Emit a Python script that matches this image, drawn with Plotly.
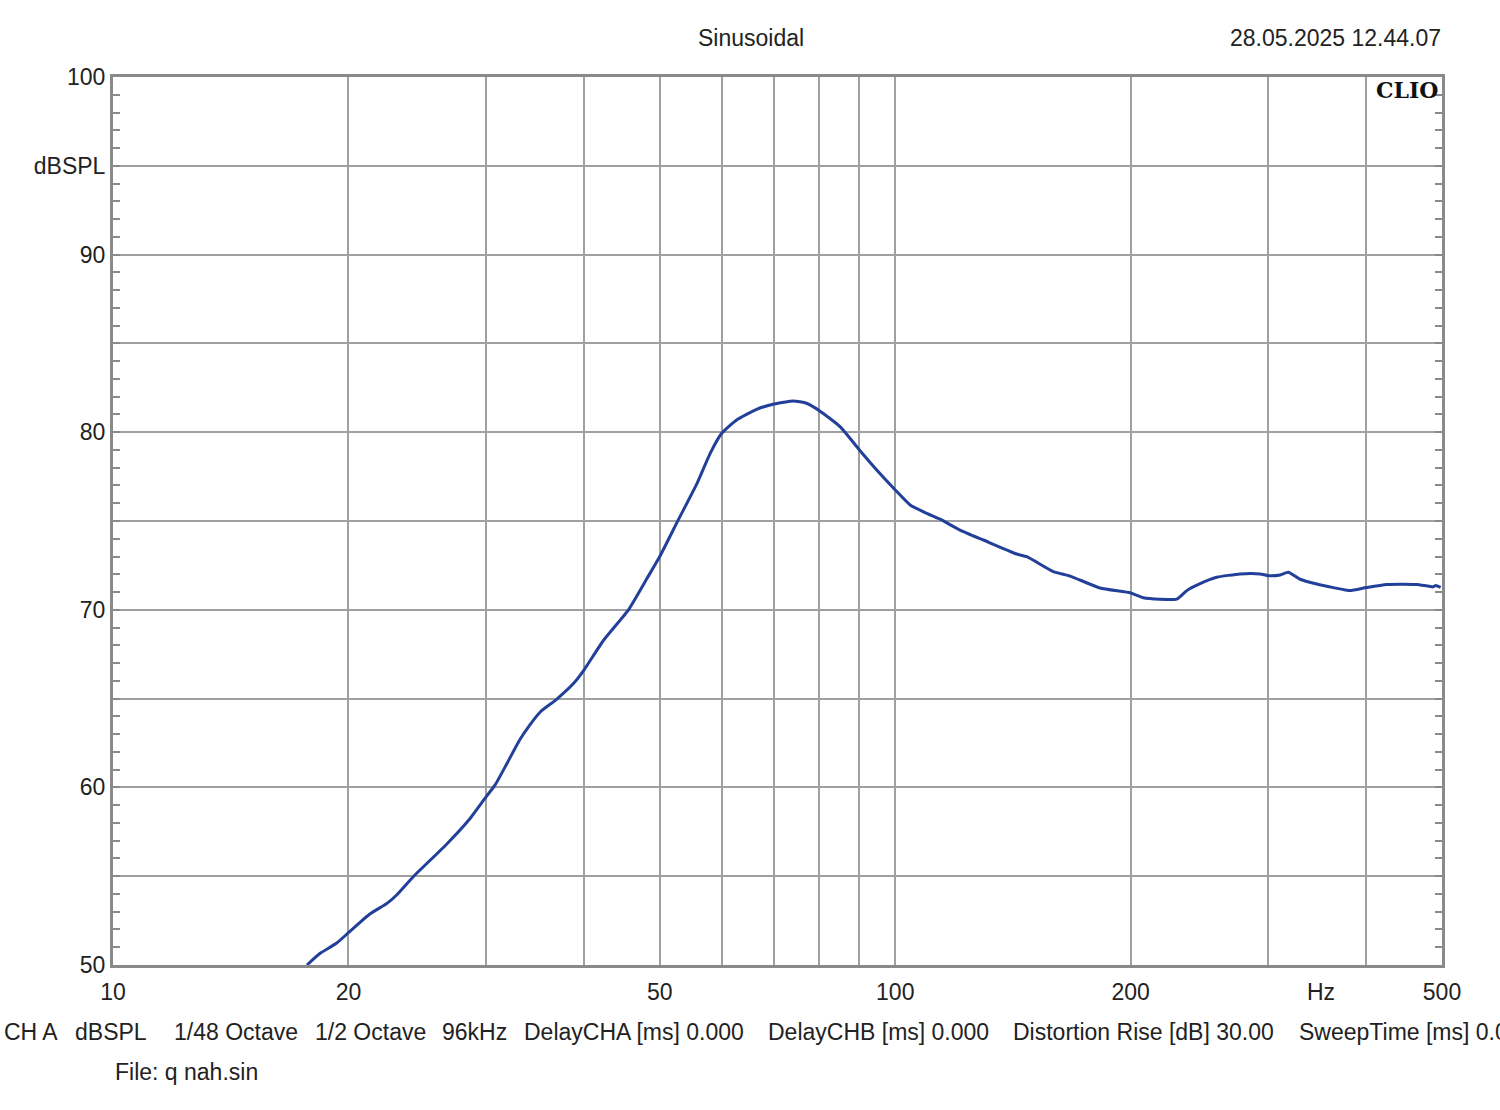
import plotly.graph_objects as go
import math

# ---- data ----
freq_hz = [17.7, 18.4, 19.3, 20.0, 21.3, 22.4, 23.05, 24.2, 26.7, 28.5, 30.0, 30.8, 31.9, 33.1,
           34.1, 35.2, 36.9, 38.8, 40.0, 42.4, 45.6, 48.1, 50.0, 52.8, 55.8, 58.0, 60.0, 62.7,
           66.5, 70.0, 74.1, 77.0, 80.0, 85.0, 90.0, 94.7, 100.0, 104.5, 109.7, 114.1, 121.0,
           129.6, 143.0, 147.3, 159.3, 167.3, 182.7, 200.0, 207.6, 229.0, 235.9, 245.3, 257.6,
           276.0, 292.7, 300.0, 310.5, 318.1, 329.2, 345.8, 363.2, 381.4, 400.0, 424.9, 464.1,
           487.5, 491.0, 498.0]
spl_db = [50.0, 50.66, 51.22, 51.82, 52.87, 53.47, 53.94, 54.97, 56.8, 58.16, 59.48, 60.14, 61.36, 62.67,
          63.51, 64.26, 64.96, 65.86, 66.61, 68.3, 70.0, 71.73, 73.0, 75.06, 77.12, 78.81, 79.94, 80.69,
          81.29, 81.59, 81.76, 81.63, 81.21, 80.31, 79.0, 77.87, 76.75, 75.9, 75.43, 75.1, 74.49,
          73.93, 73.14, 72.99, 72.15, 71.9, 71.23, 70.95, 70.68, 70.6, 71.08, 71.47, 71.83,
          72.02, 72.02, 71.92, 71.96, 72.11, 71.72, 71.45, 71.25, 71.08, 71.25, 71.43, 71.43,
          71.30, 71.37, 71.26]

x_grid_vals = [10, 20, 30, 40, 50, 60, 70, 80, 90, 100, 200, 300, 400, 500]
x_grid_text = ["10", "20", "", "", "50", "", "", "", "", "100", "200", "", "", "500"]
y_grid_vals = [50, 55, 60, 65, 70, 75, 80, 85, 90, 95, 100]
y_grid_text = ["50", "", "60", "", "70", "", "80", "", "90", "dBSPL", "100"]

title_text = "Sinusoidal"
date_text = "28.05.2025 12.44.07"
brand_text = "CLIO"
unit_text = "Hz"
footer_items = ["CH A", "dBSPL", "1/48 Octave", "1/2 Octave", "96kHz", "DelayCHA [ms] 0.000",
                "DelayCHB [ms] 0.000", "Distortion Rise [dB] 30.00", "SweepTime [ms] 0.000"]
file_text = "File: q nah.sin"

# ---- layout geometry (pixels) ----
W, H = 1500, 1110
L, R, T, B = 113, 1442, 77, 965
pw, ph = R - L, B - T

def px(xp):
    return (xp - L) / pw

def py(yp):
    return (B - yp) / ph

FONT = "Liberation Sans, Arial, sans-serif"
GRID = "#a0a0a0"
AXIS = "#8a8a8a"
FS = 23

fig = go.Figure()
fig.add_trace(go.Scatter(x=freq_hz, y=spl_db, mode="lines",
                         line=dict(color="#22409a", width=3, shape="spline", smoothing=0.5),
                         hoverinfo="x+y", showlegend=False))

fig.update_layout(
    width=W, height=H,
    margin=dict(l=L, r=W - R, t=T, b=H - B, pad=0),
    paper_bgcolor="white", plot_bgcolor="white",
    font=dict(family=FONT, size=FS, color="#222222"),
    showlegend=False,
)

fig.update_xaxes(
    type="log", range=[math.log10(10), math.log10(500)],
    tickmode="array", tickvals=x_grid_vals, ticktext=x_grid_text,
    showgrid=True, gridcolor=GRID, gridwidth=2,
    showline=True, linecolor=AXIS, linewidth=3, mirror=True,
    ticks="", ticklabelstandoff=4,
    tickfont=dict(family=FONT, size=FS, color="#222222"),
    zeroline=False,
)
fig.update_yaxes(
    range=[50, 100],
    tickmode="array", tickvals=y_grid_vals, ticktext=y_grid_text,
    showgrid=True, gridcolor=GRID, gridwidth=2,
    showline=True, linecolor=AXIS, linewidth=3, mirror="ticks",
    ticks="inside", ticklen=7, tickcolor=AXIS, tickwidth=2,
    minor=dict(dtick=1, ticks="inside", ticklen=7, tickcolor=AXIS, tickwidth=2, showgrid=False),
    ticklabelstandoff=0,
    tickfont=dict(family=FONT, size=FS, color="#222222"),
    zeroline=False,
)

ann = []
ann.append(dict(text=title_text, x=px(751), y=py(38), xanchor="center", yanchor="middle"))
ann.append(dict(text=date_text, x=px(1443), y=py(38), xanchor="right", yanchor="middle"))
ann.append(dict(text="<b>" + brand_text + "</b>", x=px(1440), y=py(90), xanchor="right", yanchor="middle",
                font=dict(family="DejaVu Serif, serif", size=22, color="#111111")))
ann.append(dict(text=unit_text, x=px(1321), y=py(992), xanchor="center", yanchor="middle"))
footer_x = [2, 73, 172, 313, 440, 522, 766, 1011, 1297]
for t, xx in zip(footer_items, footer_x):
    ann.append(dict(text=t, x=px(xx), y=py(1032), xanchor="left", yanchor="middle"))
ann.append(dict(text=file_text, x=px(113), y=py(1072), xanchor="left", yanchor="middle"))

for a in ann:
    a.update(xref="paper", yref="paper", showarrow=False)
    a.setdefault("font", dict(family=FONT, size=FS, color="#222222"))
fig.update_layout(annotations=ann)

fig.write_html("out.html", config={"displayModeBar": False},
               post_script="document.body.style.margin='0';")
